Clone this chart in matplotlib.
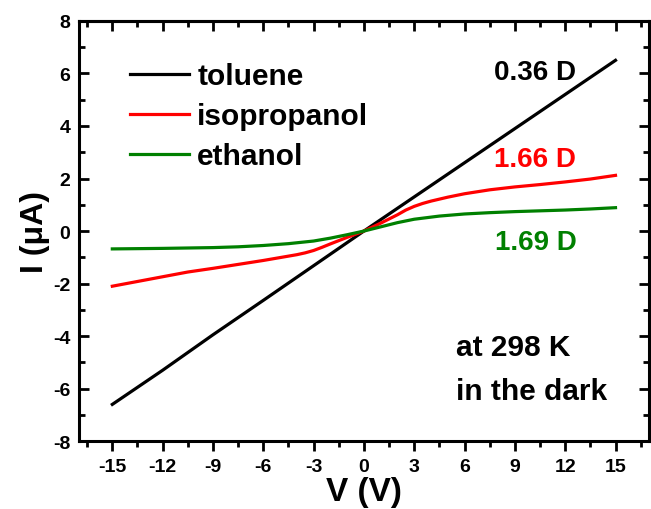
import numpy as np
import matplotlib
matplotlib.use("Agg")
import matplotlib.pyplot as plt
from matplotlib.ticker import MultipleLocator

plt.rcParams['font.family'] = ['Liberation Sans', 'DejaVu Sans']
plt.rcParams['font.weight'] = 'bold'
plt.rcParams['axes.unicode_minus'] = False

# toluene (0.36 D)
v_tol = [-15, -12, -9, -6, -3, 0, 3, 6, 9, 12, 15]
i_tol = [-6.6, -5.3, -3.95, -2.64, -1.32, 0.0, 1.3, 2.6, 3.9, 5.2, 6.5]

# isopropanol (1.66 D)
v_iso = [-15, -13.5, -12, -10.5, -9, -7.5, -6, -5, -4, -3.5, -3, -2.5, -2,
         -1, 0, 1, 2, 2.5, 3, 3.5, 4, 5, 6, 7.5, 9, 10.5, 12, 13.5, 15]
i_iso = [-2.10, -1.92, -1.74, -1.56, -1.42, -1.27, -1.12, -1.01, -0.90, -0.83,
         -0.74, -0.62, -0.49, -0.24, 0.0, 0.30, 0.62, 0.80, 0.94, 1.05, 1.14,
         1.29, 1.42, 1.57, 1.68, 1.77, 1.87, 1.98, 2.12]

# ethanol (1.69 D)
v_eth = [-15, -12, -9, -7.5, -6, -4.5, -3, -2, -1, 0, 1, 2, 3, 4.5, 6,
         7.5, 9, 10.5, 12, 13.5, 15]
i_eth = [-0.68, -0.66, -0.63, -0.60, -0.55, -0.48, -0.38, -0.27, -0.14, 0.0,
         0.16, 0.32, 0.45, 0.57, 0.65, 0.70, 0.74, 0.77, 0.80, 0.84, 0.89]

fig = plt.figure(figsize=(6.51, 5.10), dpi=100)
ax = fig.add_axes([0.121, 0.133, 0.876, 0.824])

lw = 2.3
ax.plot(v_tol, i_tol, color='black', lw=lw, label='toluene')
ax.plot(v_iso, i_iso, color='#ff0000', lw=lw, label='isopropanol')
ax.plot(v_eth, i_eth, color='#008000', lw=lw, label='ethanol')

ax.set_xlim(-17, 17)
ax.set_ylim(-8, 8)
ax.xaxis.set_major_locator(MultipleLocator(3))
ax.xaxis.set_minor_locator(MultipleLocator(1.5))
ax.yaxis.set_major_locator(MultipleLocator(2))
ax.yaxis.set_minor_locator(MultipleLocator(1))

for s in ax.spines.values():
    s.set_linewidth(2.2)

ax.tick_params(axis='x', which='both', direction='out', bottom=True, top=False, width=2)
ax.tick_params(axis='y', which='both', direction='in', left=True, right=True, width=2)
ax.tick_params(which='major', length=7)
ax.tick_params(which='minor', length=4)
ax.tick_params(axis='x', labelsize=14, pad=5)
ax.tick_params(axis='y', labelsize=14, pad=6)
# top ticks pointing in
ax2 = ax.secondary_xaxis('top')
ax2.xaxis.set_major_locator(MultipleLocator(3))
ax2.xaxis.set_minor_locator(MultipleLocator(1.5))
ax2.tick_params(which='both', direction='in', width=2, labeltop=False)
ax2.tick_params(which='major', length=7)
ax2.tick_params(which='minor', length=4)
ax2.spines['top'].set_linewidth(2.2)

ax.set_xlabel('V (V)', fontsize=24, fontweight='bold', labelpad=1)
ax.set_ylabel('I (\u03bcA)', fontsize=23, fontweight='bold', labelpad=2)

leg = ax.legend(loc='upper left', bbox_to_anchor=(0.089, 0.902), frameon=False,
                prop={'size': 21.5, 'weight': 'bold'}, handlelength=2.0,
                labelspacing=0.40, handletextpad=0.27, borderaxespad=0,
                borderpad=0)

ax.text(12.66, 6.06, '0.36 D', color='black', fontsize=20, fontweight='bold',
        ha='right', va='center')
ax.text(12.66, 2.74, '1.66 D', color='#ff0000', fontsize=20, fontweight='bold',
        ha='right', va='center')
ax.text(12.66, -0.42, '1.69 D', color='#008000', fontsize=20, fontweight='bold',
        ha='right', va='center')
ax.text(5.5, -4.4, 'at 298 K', color='black', fontsize=21.5, fontweight='bold',
        ha='left', va='center')
ax.text(5.5, -6.1, 'in the dark', color='black', fontsize=21.5, fontweight='bold',
        ha='left', va='center')

fig.savefig('out.png', dpi=100)
